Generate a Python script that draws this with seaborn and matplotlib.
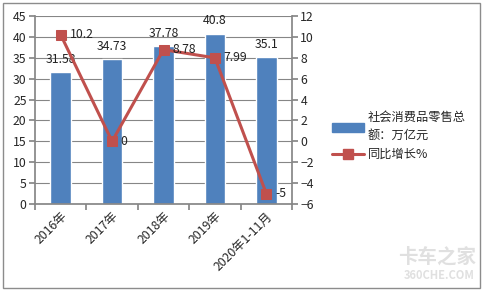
import matplotlib
matplotlib.use("Agg")
import matplotlib.pyplot as plt
import seaborn as sns
import pandas as pd
from matplotlib.patches import Rectangle, Patch
from matplotlib.lines import Line2D

categories = ["2016年", "2017年", "2018年", "2019年", "2020年1-11月"]
retail_sales = [31.58, 34.73, 37.78, 40.8, 35.1]
growth = [10.2, 0, 8.78, 7.99, -5]
bar_label = "社会消费品零售总\n额：万亿元"
line_label = "同比增长%"

sns.set_theme(style="white")
plt.rcParams['font.family'] = ['Noto Sans CJK SC', 'DejaVu Sans']

df = pd.DataFrame({"cat": categories, "sales": retail_sales, "growth": growth})

fig = plt.figure(figsize=(4.83, 2.91), dpi=100)
fig.patch.set_facecolor("white")
ax = fig.add_axes([35/483, 1-204/291, (292-35)/483, (204-16)/291])

bar_color = "#4F81BD"
line_color = "#C0504D"
fs = 8.8

sns.barplot(data=df, x="cat", y="sales", color=bar_color, width=0.4,
            saturation=1, ax=ax, zorder=2)
ax.set_ylim(0, 45)
ax.set_yticks(range(0, 46, 5))
ax.set_xlim(-0.5, 4.5)
ax.set_xlabel("")
ax.set_ylabel("")
ax.yaxis.grid(True, color="#868686", linewidth=0.8, zorder=0)
ax.set_axisbelow(True)

for i, v in enumerate(retail_sales):
    ax.text(i, v + 1.5, f"{v:g}", ha="center", va="bottom", fontsize=fs, color="#222222")

ax2 = ax.twinx()
sns.lineplot(x=list(range(len(categories))), y=growth, ax=ax2, color=line_color,
             linewidth=2.2, marker="s", markersize=7, markeredgecolor=line_color,
             zorder=3)
ax2.set_ylim(-6, 12)
ax2.set_yticks(range(-6, 13, 2))
ax2.set_xlim(-0.5, 4.5)
for i, v in enumerate(growth):
    ax2.text(i + 0.17, v, f"{v:g}", ha="left", va="center", fontsize=fs, color="#222222")

for a in (ax, ax2):
    for s in a.spines.values():
        s.set_visible(False)
ax.spines["left"].set_visible(True)
ax.spines["left"].set_color("#868686")
ax.spines["bottom"].set_visible(True)
ax.spines["bottom"].set_color("#868686")
ax2.spines["right"].set_visible(True)
ax2.spines["right"].set_color("#868686")

ax.tick_params(axis="y", length=4, color="#868686", labelsize=fs, pad=2, left=True)
ax.tick_params(axis="x", length=4, color="#868686", labelsize=fs, bottom=True)
ax2.tick_params(axis="y", length=4, color="#868686", labelsize=fs, pad=2, right=True)
ax.set_xticks([-0.5, 0.5, 1.5, 2.5, 3.5, 4.5], minor=False)
ax.set_xticklabels([])
ax.set_xticks(range(len(categories)), minor=True)
ax.set_xticklabels(categories, minor=True, rotation=45, ha="right",
                   rotation_mode="anchor", fontsize=fs)
ax.tick_params(axis="x", which="minor", length=0, pad=4)

handles = [Patch(facecolor=bar_color, edgecolor=bar_color),
           Line2D([0], [0], color=line_color, linewidth=2.2, marker="s",
                  markersize=7)]
leg = fig.legend(handles, [bar_label, line_label], loc="upper left",
                 bbox_to_anchor=(321/483, 1-100/291), frameon=False, fontsize=fs,
                 handlelength=2.6, handletextpad=0.3, labelspacing=0.5)
for t in leg.get_texts():
    t.set_linespacing(1.5)

fig.text(0.985, 0.085, "卡车之家", ha="right", va="bottom", fontsize=14,
         color="#e0e0e0", fontweight="bold")
fig.text(0.982, 0.03, "360CHE.COM", ha="right", va="bottom", fontsize=8,
         color="#e0e0e0", fontweight="bold")

fig.add_artist(Rectangle((3/483, 3/291), 477/483, 285/291, transform=fig.transFigure,
                         fill=False, edgecolor="#8c8c8c", linewidth=1))

fig.savefig("out.png", dpi=100, facecolor="white")
